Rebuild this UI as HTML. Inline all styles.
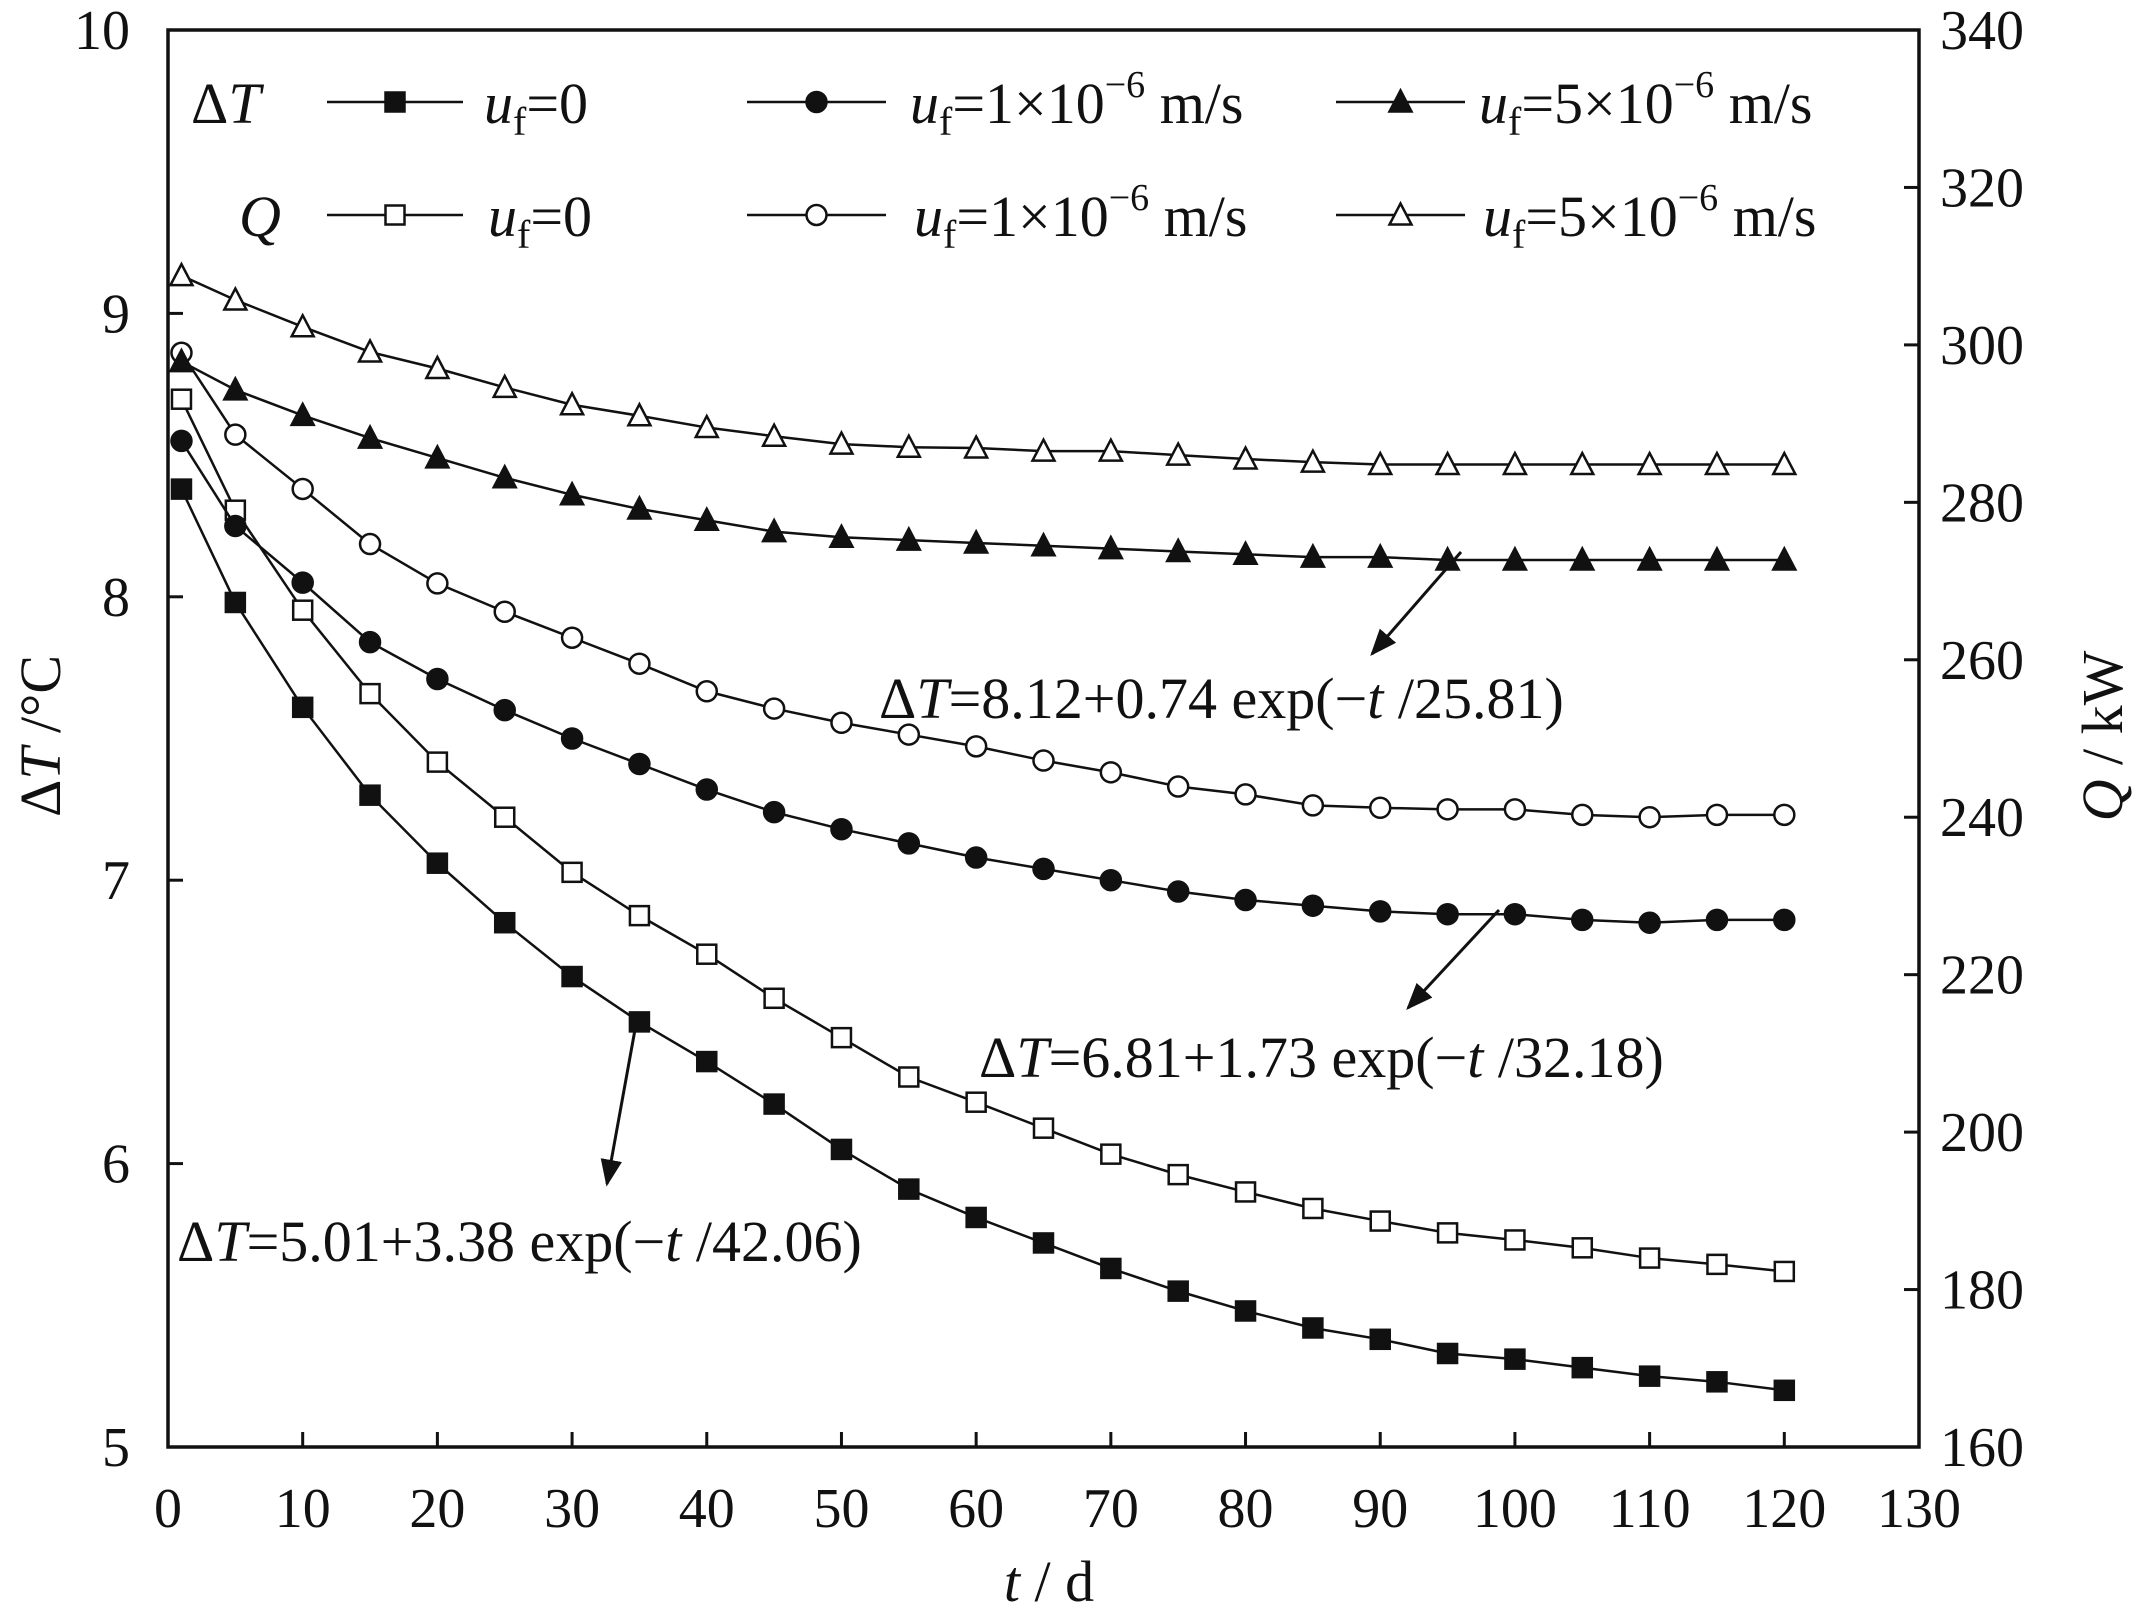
<!DOCTYPE html>
<html><head><meta charset="utf-8"><style>
html,body{margin:0;padding:0;background:#fff}
svg{display:block;}
svg text{font-family:"Liberation Serif","Times New Roman",serif;}
</style></head><body>
<svg id="chart" width="2137" height="1621" viewBox="0 0 2137 1621" xmlns="http://www.w3.org/2000/svg" font-family="Liberation Serif, serif">
<g id="plot"></g>
</svg>
<script>
const days = [1,5,10,15,20,25,30,35,40,45,50,55,60,65,70,75,80,85,90,95,100,105,110,115,120];
const dT0 = [8.38,7.98,7.61,7.30,7.06,6.85,6.66,6.50,6.36,6.21,6.05,5.91,5.81,5.72,5.63,5.55,5.48,5.42,5.38,5.33,5.31,5.28,5.25,5.23,5.20];
const dT1 = [8.55,8.25,8.05,7.84,7.71,7.60,7.50,7.41,7.32,7.24,7.18,7.13,7.08,7.04,7.00,6.96,6.93,6.91,6.89,6.88,6.88,6.86,6.85,6.86,6.86];
const dT5 = [8.83,8.73,8.64,8.56,8.49,8.42,8.36,8.31,8.27,8.23,8.21,8.20,8.19,8.18,8.17,8.16,8.15,8.14,8.14,8.13,8.13,8.13,8.13,8.13,8.13];
const Q0 = [293.1,279,266.3,255.7,247,240,233,227.5,222.6,217,212,207,203.8,200.5,197.2,194.6,192.4,190.3,188.7,187.2,186.3,185.3,184,183.2,182.3];
const Q1 = [299,288.6,281.7,274.7,269.7,266.1,262.8,259.5,256,253.8,252,250.5,249,247.2,245.7,243.9,242.9,241.5,241.2,241,241,240.3,240,240.3,240.3];
const Q5 = [308.8,305.7,302.3,299.1,297,294.6,292.4,291,289.5,288.4,287.4,287,286.9,286.5,286.5,286,285.5,285.1,284.8,284.8,284.8,284.8,284.8,284.8,284.8];
const xTicks = [0,10,20,30,40,50,60,70,80,90,100,110,120,130];
const yTicks = [5,6,7,8,9,10];
const qTicks = [160,180,200,220,240,260,280,300,320,340];

const L=168,R=1919,T=30,B=1447;
const sx=v=>L+(v-0)/130*(R-L);
const sy=v=>B-(v-5)/5*(B-T);
const sq=v=>B-(v-160)/180*(B-T);
const NS="http://www.w3.org/2000/svg";
const g=document.getElementById('plot');
function mk(tag,attrs,parent){const e=document.createElementNS(NS,tag);for(const k in attrs)e.setAttribute(k,attrs[k]);if(tag==='text')e.setAttribute('font-family','Liberation Serif, serif');(parent||g).appendChild(e);return e;}

function marker(type,filled,x,y,parent){
  const f=filled?'#111':'#fff';const s=9.5;let e;
  if(type==='sq') e=mk('rect',{x:x-s,y:y-s,width:2*s,height:2*s,fill:f,stroke:'#111','stroke-width':2.5},parent);
  else if(type==='ci') e=mk('circle',{cx:x,cy:y,r:s+0.5,fill:f,stroke:'#111','stroke-width':2.5},parent);
  else e=mk('polygon',{points:`${x},${y-s-2} ${x+s+1.5},${y+s} ${x-s-1.5},${y+s}`,fill:f,stroke:'#111','stroke-width':2.5},parent);
  return e;
}
function series(name,vals,scale,type,filled){
  const sg=mk('g',{});
  
  
  const pts=days.map((d,i)=>sx(d)+','+scale(vals[i])).join(' ');
  mk('polyline',{points:pts,fill:'none',stroke:'#111','stroke-width':2.5},sg);
  days.forEach((d,i)=>{const m=marker(type,filled,sx(d),scale(vals[i]),sg);
    
    });
}
const ax=mk('rect',{x:L,y:T,width:R-L,height:B-T,fill:'none',stroke:'#111','stroke-width':3.5});


xTicks.forEach(v=>{const x=sx(v);
  if(v>0&&v<130) mk('line',{x1:x,x2:x,y1:B,y2:B-15,stroke:'#111','stroke-width':3});
  const t=mk('text',{x:x,y:1527,'text-anchor':'middle','font-size':56,fill:'#111'});t.textContent=v;
  
  });
yTicks.forEach(v=>{const y=sy(v);
  if(v>5&&v<10) mk('line',{x1:L,x2:L+15,y1:y,y2:y,stroke:'#111','stroke-width':3});
  const t=mk('text',{x:130,y:y+19,'text-anchor':'end','font-size':56,fill:'#111'});t.textContent=v;
  
  });
qTicks.forEach(v=>{const y=sq(v);
  if(v>160&&v<340) mk('line',{x1:R,x2:R-15,y1:y,y2:y,stroke:'#111','stroke-width':3});
  const t=mk('text',{x:1940,y:y+19,'text-anchor':'start','font-size':56,fill:'#111'});t.textContent=v;
  
  });

series('q-uf0',Q0,sq,'sq',false);
series('q-uf1',Q1,sq,'ci',false);
series('q-uf5',Q5,sq,'tr',false);
series('dt-uf0',dT0,sy,'sq',true);
series('dt-uf1',dT1,sy,'ci',true);
series('dt-uf5',dT5,sy,'tr',true);

const rows=[{y:102,lab:'Δ<tspan font-style="italic">T</tspan>',f:true},{y:215,lab:'<tspan font-style="italic">Q</tspan>',f:false}];
const cols=[{x1:327,x2:463,type:'sq',tx:484,txt:'=0'},{x1:747,x2:886,type:'ci',tx:910,txt:'=1×10',sup:true},{x1:1336,x2:1465,type:'tr',tx:1479,txt:'=5×10',sup:true}];
rows.forEach((r,ri)=>{
  const lt=mk('text',{x:ri?239:191,y:r.y+21,'font-size':58,fill:'#111'});
  lt.innerHTML=r.lab;
  
  
  cols.forEach(c=>{
    const lg=mk('g',{});
    
    
    mk('line',{x1:c.x1,x2:c.x2,y1:r.y,y2:r.y,stroke:'#111','stroke-width':2.5},lg);
    marker(c.type,r.f,(c.x1+c.x2)/2,r.y,lg);
    const t=mk('text',{x:c.tx+(ri?4:0),y:r.y+21,'font-size':58,fill:'#111'},lg);
    t.innerHTML='<tspan font-style="italic">u</tspan><tspan font-size="40" dy="12">f</tspan><tspan dy="-12">'+c.txt+'</tspan>'+(c.sup?'<tspan font-size="38" dy="-26">−6</tspan><tspan dy="26"> m/s</tspan>':'');
  });
});
const ann=[{x:879,y:718,a:'8.12+0.74',b:'25.81',ax:[1461,552,1372,654]},{x:979,y:1077,a:'6.81+1.73',b:'32.18',ax:[1499,910,1408,1008]},{x:177,y:1261,a:'5.01+3.38',b:'42.06',ax:[638,1013,607,1184]}];
mk('defs',{}).innerHTML='<marker id="ah" viewBox="0 0 10 10" refX="9" refY="5" markerWidth="9" markerHeight="9" orient="auto"><path d="M0,1 L10,5 L0,9 z" fill="#111"/></marker>';
ann.forEach(a=>{
  const l=mk('line',{x1:a.ax[0],y1:a.ax[1],x2:a.ax[2],y2:a.ax[3],stroke:'#111','stroke-width':3,'marker-end':'url(#ah)'});
  
  
  const t=mk('text',{x:a.x,y:a.y,'font-size':58,fill:'#111'});
  t.innerHTML='Δ<tspan font-style="italic">T</tspan>='+a.a+' exp(−<tspan font-style="italic">t</tspan> /'+a.b+')';
  
  
});
let t=mk('text',{x:1049,y:1601,'text-anchor':'middle','font-size':58,fill:'#111'});
t.innerHTML='<tspan font-style="italic">t</tspan> / d';


t=mk('text',{x:0,y:0,'text-anchor':'middle','font-size':58,fill:'#111',transform:'translate(60,736) rotate(-90)'});
t.innerHTML='Δ<tspan font-style="italic">T</tspan> /°C';


t=mk('text',{x:0,y:0,'text-anchor':'middle','font-size':58,fill:'#111',transform:'translate(2122,736) rotate(-90)'});
t.innerHTML='<tspan font-style="italic">Q</tspan> / kW';


</script>
</body></html>
